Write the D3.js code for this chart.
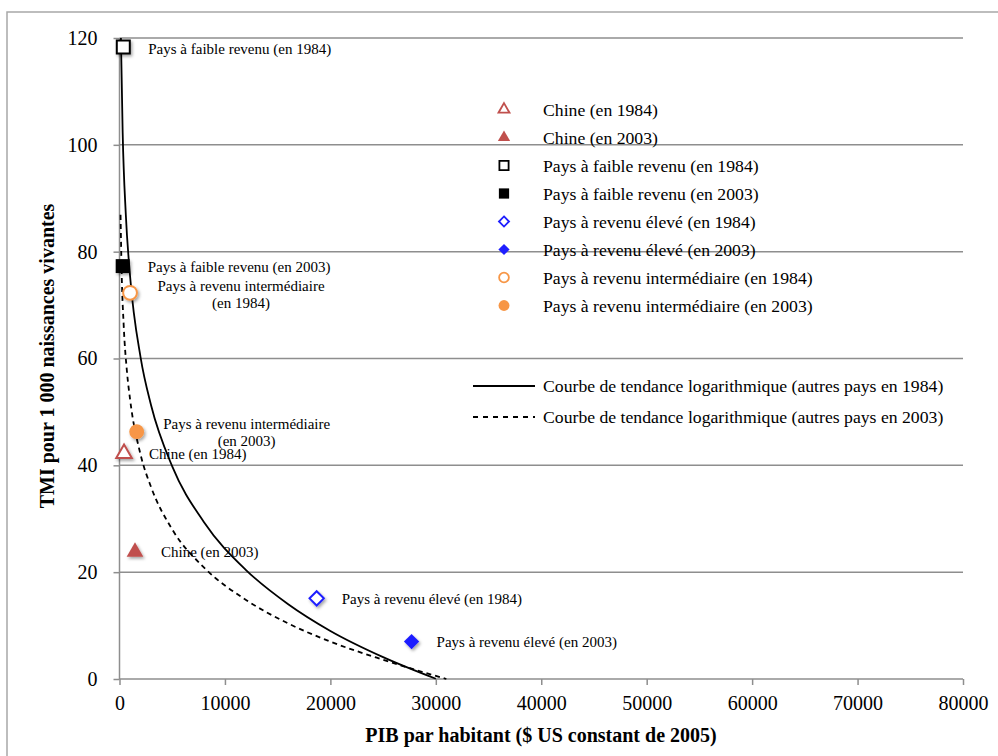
<!DOCTYPE html>
<html><head><meta charset="utf-8">
<script src="https://cdn.jsdelivr.net/npm/d3@7"></script>
<style>body{margin:0;background:#fff}svg{display:block}</style>
</head><body><svg id="chart" width="998" height="756"></svg>
<script>
// ---------- DATA ----------
const seriesNames = [
  "Chine (en 1984)", "Chine (en 2003)",
  "Pays à faible revenu (en 1984)", "Pays à faible revenu (en 2003)",
  "Pays à revenu élevé (en 1984)", "Pays à revenu élevé (en 2003)",
  "Pays à revenu intermédiaire (en 1984)", "Pays à revenu intermédiaire (en 2003)"
];
const seriesGDP = [430, 1470, 360, 300, 18700, 27700, 1000, 1630];
const seriesTMI = [42.2, 23.8, 118.3, 77.3, 15.1, 7.0, 72.3, 46.3];
const pointLabels = [
  ["Chine (en 1984)"], ["Chine (en 2003)"],
  ["Pays à faible revenu (en 1984)"], ["Pays à faible revenu (en 2003)"],
  ["Pays à revenu élevé (en 1984)"], ["Pays à revenu élevé (en 2003)"],
  ["Pays à revenu intermédiaire", "(en 1984)"], ["Pays à revenu intermédiaire", "(en 2003)"]
];
const trendNames = [
  "Courbe de tendance logarithmique (autres pays en 1984)",
  "Courbe de tendance logarithmique (autres pays en 2003)"
];
const trend1984GDP = [135, 300, 600, 1000, 2000, 3000, 5000, 8000, 12000, 16000, 20000, 25000, 30000];
const trend1984TMI = [120, 102.3, 86.9, 75.5, 60.2, 51.2, 39.8, 29.4, 20.4, 14.0, 9.0, 4.1, 0.05];
const trend2003GDP = [100, 200, 400, 700, 1000, 2000, 3000, 5000, 8000, 12000, 16000, 20000, 25000, 31000];
const trend2003TMI = [86.9, 76.5, 66.1, 57.7, 52.4, 42.0, 35.9, 28.0, 20.9, 14.8, 10.4, 7.0, 3.6, 0.0];
const xTicks = [0, 10000, 20000, 30000, 40000, 50000, 60000, 70000, 80000];
const yTicks = [0, 20, 40, 60, 80, 100, 120];
const xTitle = "PIB par habitant ($ US constant de 2005)";
const yTitle = "TMI pour 1 000 naissances vivantes";

// ---------- STYLE / LAYOUT ----------
const FONT = "'Liberation Serif','Times New Roman',serif";
const GRID = "#8e8e8e";
const RED = "#C0504D", ORANGE = "#F79646", BLUE = "#1f1fff";
const styles = [
  {shape: d3.symbolTriangle, color: RED, filled: false},
  {shape: d3.symbolTriangle, color: RED, filled: true},
  {shape: d3.symbolSquare, color: "#000", filled: false},
  {shape: d3.symbolSquare, color: "#000", filled: true},
  {shape: d3.symbolDiamond2, color: BLUE, filled: false},
  {shape: d3.symbolDiamond2, color: BLUE, filled: true},
  {shape: d3.symbolCircle, color: ORANGE, filled: false},
  {shape: d3.symbolCircle, color: ORANGE, filled: true}
];
// label offsets (px) relative to each point
const labelOffsets = [
  {dx: 25, dy: 5, anchor: "start"}, {dx: 26, dy: 5, anchor: "start"},
  {dx: 25, dy: 6.5, anchor: "start"}, {dx: 25, dy: 6, anchor: "start"},
  {dx: 25, dy: 5.7, anchor: "start"}, {dx: 25, dy: 5, anchor: "start"},
  {dx: 111, dy: -1.7, anchor: "middle"}, {dx: 110, dy: -3, anchor: "middle"}
];

const svg = d3.select("#chart");
const defs = svg.append("defs");
const f = defs.append("filter").attr("id", "shadow").attr("x", "-50%").attr("y", "-50%").attr("width", "200%").attr("height", "200%");
f.append("feDropShadow").attr("dx", 1.5).attr("dy", 2).attr("stdDeviation", 1.5).attr("flood-color", "#000").attr("flood-opacity", 0.35);

// outer frame (extends beyond the visible area, only left/top visible)
svg.append("rect").attr("x", 7).attr("y", 12).attr("width", 1100).attr("height", 900)
  .attr("fill", "none").attr("stroke", "#a8a8a8").attr("stroke-width", 1.5);

const x = d3.scaleLinear().domain([0, 80000]).range([119.5, 963]);
const y = d3.scaleLinear().domain([0, 120]).range([679, 38]);

// gridlines
svg.append("g").selectAll("line").data(yTicks.filter(d => d > 0)).join("line")
  .attr("x1", x(0)).attr("x2", x(80000)).attr("y1", d => y(d)).attr("y2", d => y(d))
  .attr("stroke", GRID).attr("stroke-width", 1.5);

// axes
const yAxis = svg.append("g").attr("transform", `translate(${x(0)},0)`)
  .call(d3.axisLeft(y).tickValues(yTicks).tickSize(6).tickPadding(16).tickFormat(d3.format("d")));
const xAxis = svg.append("g").attr("transform", `translate(0,${y(0)})`)
  .call(d3.axisBottom(x).tickValues(xTicks).tickSize(6).tickPadding(10.5).tickFormat(d3.format("d")));
[xAxis, yAxis].forEach(g => {
  g.select(".domain").attr("stroke", GRID).attr("stroke-width", 1.5);
  g.selectAll(".tick line").attr("stroke", GRID).attr("stroke-width", 1.5);
  g.selectAll(".tick text").attr("font-family", FONT).attr("font-size", 20).attr("fill", "#000");
});
yAxis.select(".domain").attr("d", `M0,${y(120)}V${y(0)}`);
xAxis.select(".domain").attr("d", `M${x(0)},0H${x(80000)}`);

// axis titles
svg.append("text").attr("x", 541).attr("y", 742).attr("text-anchor", "middle")
  .attr("font-family", FONT).attr("font-size", 20).attr("font-weight", "bold").text(xTitle);
svg.append("text").attr("transform", "translate(54,356) rotate(-90)").attr("text-anchor", "middle")
  .attr("font-family", FONT).attr("font-size", 20).attr("font-weight", "bold").text(yTitle);

// point labels
const lbl = svg.append("g").attr("font-family", FONT).attr("font-size", 15).attr("fill", "#000");
seriesNames.forEach((n, i) => {
  const o = labelOffsets[i];
  const t = lbl.append("text").attr("text-anchor", o.anchor)
    .attr("x", x(seriesGDP[i]) + o.dx).attr("y", y(seriesTMI[i]) + o.dy);
  pointLabels[i].forEach((line, j) => {
    t.append("tspan").attr("x", x(seriesGDP[i]) + o.dx).attr("dy", j === 0 ? 0 : 17).text(line);
  });
});

// trend curves
const line = d3.line().x(d => x(d[0])).y(d => y(d[1])).curve(d3.curveMonotoneX);
svg.append("path").datum(d3.zip(trend1984GDP, trend1984TMI)).attr("d", line)
  .attr("fill", "none").attr("stroke", "#000").attr("stroke-width", 1.8);
svg.append("path").datum(d3.zip(trend2003GDP, trend2003TMI)).attr("d", line)
  .attr("fill", "none").attr("stroke", "#000").attr("stroke-width", 1.8).attr("stroke-dasharray", "5,4");

// markers
function sizeFor(shape, scale) {
  if (shape === d3.symbolTriangle) return 105 * scale;
  if (shape === d3.symbolSquare) return 169 * scale;
  if (shape === d3.symbolDiamond2) return 130 * scale;
  return 150 * scale;
}
const mk = svg.append("g").attr("filter", "url(#shadow)");
seriesNames.forEach((n, i) => {
  const s = styles[i];
  mk.append("path")
    .attr("d", d3.symbol().type(s.shape).size(sizeFor(s.shape, s.filled ? 1.15 : 1))())
    .attr("transform", `translate(${x(seriesGDP[i])},${y(seriesTMI[i])})`)
    .attr("fill", s.filled ? s.color : "#fff")
    .attr("stroke", s.color).attr("stroke-width", s.filled ? 0 : 2);
});

// legend
const lg = svg.append("g").attr("font-family", FONT).attr("font-size", 17.7).attr("fill", "#000");
seriesNames.forEach((n, i) => {
  const s = styles[i];
  const cy = 109.5 + i * 28;
  lg.append("path")
    .attr("d", d3.symbol().type(s.shape).size(sizeFor(s.shape, s.filled ? 0.62 : 0.5))())
    .attr("transform", `translate(504,${cy})`)
    .attr("fill", s.filled ? s.color : "#fff")
    .attr("stroke", s.color).attr("stroke-width", s.filled ? 0 : 1.8);
  lg.append("text").attr("x", 543).attr("y", cy + 6).text(n);
});
trendNames.forEach((n, i) => {
  const cy = 386 + i * 31;
  lg.append("line").attr("x1", 473).attr("x2", 535).attr("y1", cy).attr("y2", cy)
    .attr("stroke", "#000").attr("stroke-width", 1.8).attr("stroke-dasharray", i === 1 ? "5,5" : null);
  lg.append("text").attr("x", 543).attr("y", cy + 6).text(n);
});
</script></body></html>
